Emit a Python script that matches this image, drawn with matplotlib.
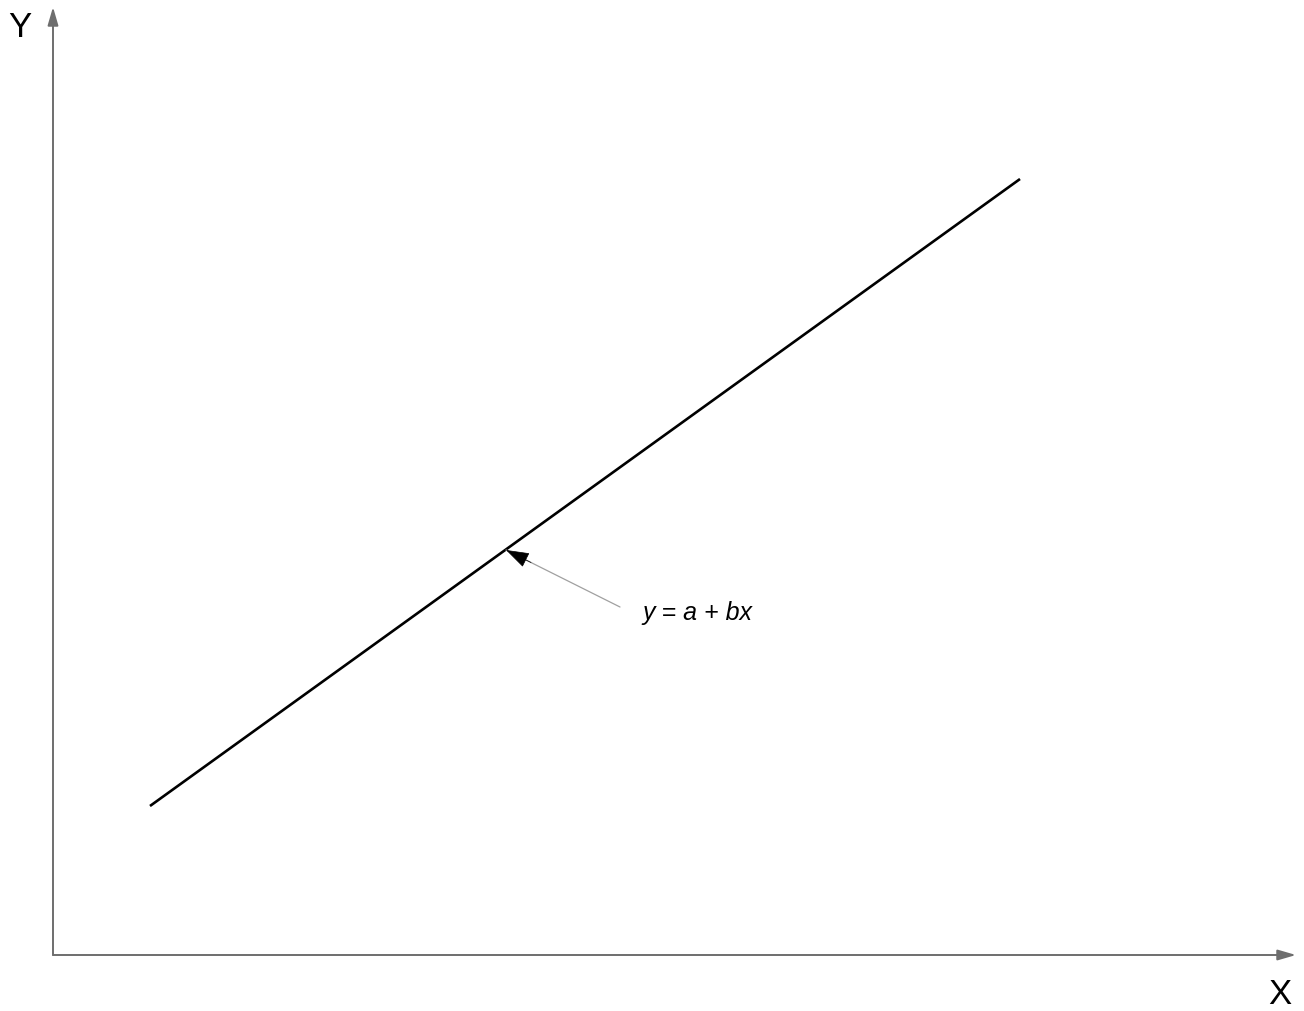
import matplotlib.pyplot as plt
import numpy as np

plt.rcParams['font.family'] = ['Liberation Sans', 'DejaVu Sans']

# regression line end points (data units, origin at axes corner)
line_x = [0.97, 9.67]
line_y = [1.49, 7.76]

# annotation: tip on the line, tail near the label
tip = (4.53, 4.05)
tail = (5.67, 3.48)
label_pos = (5.89, 3.43)
label = 'y = a + bx'

x_end = 12.43
y_end = 9.48

fig = plt.figure(figsize=(13.04, 10.12), dpi=100)
ax = fig.add_axes([0, 0, 1, 1])
ax.set_xlim(-0.53, 12.51)
ax.set_ylim(-0.56, 9.56)
ax.axis('off')

axis_col = '#6e6e6e'
ax.annotate('', xy=(x_end, 0), xytext=(0, 0),
            arrowprops=dict(arrowstyle='-|>,head_length=1.1,head_width=0.32',
                            color=axis_col, lw=1.4, shrinkA=0, shrinkB=0))
ax.annotate('', xy=(0, y_end), xytext=(0, 0),
            arrowprops=dict(arrowstyle='-|>,head_length=1.1,head_width=0.32',
                            color=axis_col, lw=1.4, shrinkA=0, shrinkB=0))

ax.text(-0.33, 9.29, 'Y', fontsize=25, ha='center', va='center')
ax.text(12.27, -0.39, 'X', fontsize=25, ha='center', va='center')

ax.plot(line_x, line_y, color='black', lw=1.9, solid_capstyle='butt')

# thin grey shaft, black head
ax.annotate('', xy=tip, xytext=tail,
            arrowprops=dict(arrowstyle='-', color='#a0a0a0', lw=0.9,
                            shrinkA=0, shrinkB=0))
d = np.array(tail) - np.array(tip)
d = d / np.hypot(*d) * 0.28
ax.annotate('', xy=tip, xytext=(tip[0] + d[0], tip[1] + d[1]),
            arrowprops=dict(arrowstyle='-|>,head_length=1.5,head_width=0.5',
                            color='black', lw=0.5, shrinkA=0, shrinkB=0))

ax.text(label_pos[0], label_pos[1], label, fontsize=18, ha='left', va='center',
        fontstyle='italic')

fig.savefig('out.png', dpi=100)
